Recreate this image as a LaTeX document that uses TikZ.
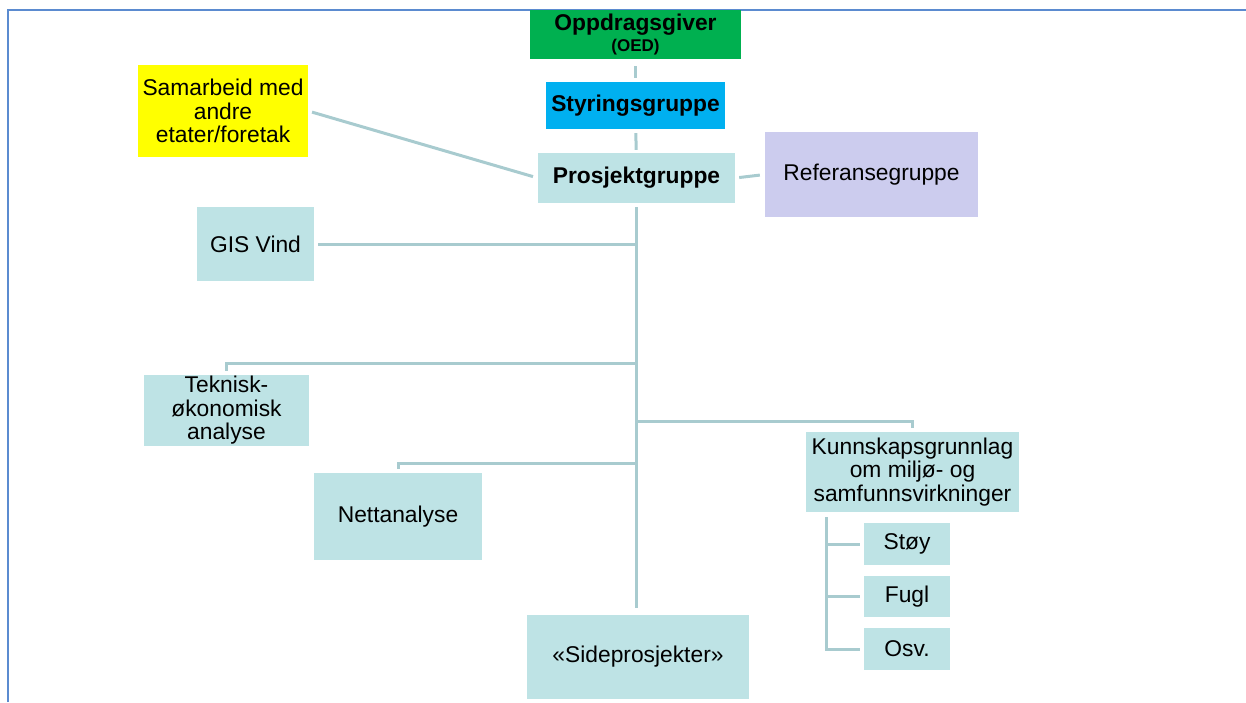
\documentclass[tikz,border=0pt]{standalone}
\usepackage{fontspec}
\setmainfont{Liberation Sans}
\definecolor{oppgreen}{HTML}{00B050}
\definecolor{styblue}{HTML}{00B0F0}
\definecolor{boxcyan}{HTML}{BEE3E5}
\definecolor{reflav}{HTML}{CCCCEE}
\definecolor{samyellow}{HTML}{FFFF00}
\definecolor{linkcol}{HTML}{A8CBCF}
\definecolor{framecol}{HTML}{5B8BD0}
\begin{document}
\begin{tikzpicture}[x=1pt,y=-1pt,
  box/.style={draw=none, align=center, inner sep=0pt, font=\fontsize{22.8}{23.5}\selectfont},
  cyanbox/.style={box, fill=boxcyan},
  link/.style={draw=linkcol, line width=3pt}]
\useasboundingbox (0,0) rectangle (1246,702);
\draw[framecol, line width=2pt] (8,702) -- (8,10) -- (1246,10);

\node[box, fill=oppgreen, minimum width=211pt, minimum height=49pt] (opp) at (635.5,34.5)
  {\textbf{Oppdragsgiver}\\[-2pt]{\fontsize{17}{18}\selectfont\textbf{(OED)}}};
\node[box, fill=styblue, minimum width=179pt, minimum height=47pt] (sty) at (635.5,105.5) {\textbf{Styringsgruppe}};
\node[cyanbox, minimum width=197pt, minimum height=50pt] (pro) at (636.5,178) {\textbf{Prosjektgruppe}};
\node[box, fill=reflav, minimum width=213pt, minimum height=85pt] (ref) at (871.5,174.5) {Referansegruppe};
\node[box, fill=samyellow, minimum width=170pt, minimum height=92pt] (sam) at (223,111) {Samarbeid med\\andre\\etater/foretak};
\node[cyanbox, minimum width=117pt, minimum height=74pt] (gis) at (255.5,244) {GIS Vind};
\node[cyanbox, minimum width=165pt, minimum height=71pt] (tek) at (226.5,410.5) {Teknisk-\\økonomisk\\analyse};
\node[cyanbox, minimum width=168pt, minimum height=87pt] (net) at (398,516.5) {Nettanalyse};
\node[cyanbox, minimum width=213pt, minimum height=80pt] (kun) at (912.5,472) {Kunnskapsgrunnlag\\om miljø- og\\samfunnsvirkninger};
\node[cyanbox, minimum width=86pt, minimum height=42pt] (sto) at (907,544) {Støy};
\node[cyanbox, minimum width=86pt, minimum height=41pt] (fug) at (907,596.5) {Fugl};
\node[cyanbox, minimum width=86pt, minimum height=42pt] (osv) at (907,649) {Osv.};
\node[cyanbox, minimum width=222pt, minimum height=84pt] (sid) at (638,657) {«Sideprosjekter»};

\coordinate (tb) at (636,608);
\coordinate (j1) at (636,363);
\coordinate (j2) at (636,463);
\coordinate (j3) at (636,421);
\coordinate (s0) at (826,512);

\draw[link, shorten <=7pt, shorten >=4pt] (opp) -- (sty);
\draw[link, shorten <=4pt, shorten >=3pt] (sty) -- (pro);
\draw[link, shorten <=4pt] (pro.south -| tb) -- (tb);
\draw[link, shorten <=4pt, shorten >=5pt] (sam.east) -- (pro.west);
\draw[link, shorten <=4pt, shorten >=5pt] (pro.east) -- (ref.west);
\draw[link, shorten <=4pt] (gis.east) -- (gis.east -| tb);
\draw[link, shorten >=4pt] (j1) -| (tek.north);
\draw[link, shorten >=4pt] (j2) -| (net.north);
\draw[link, shorten >=4pt] (j3) -| (kun.north);
\draw[link, shorten <=5pt, shorten >=4pt] (s0) |- (osv.west);
\draw[link, shorten >=4pt] (s0 |- sto.west) -- (sto.west);
\draw[link, shorten >=4pt] (s0 |- fug.west) -- (fug.west);
\end{tikzpicture}
\end{document}
